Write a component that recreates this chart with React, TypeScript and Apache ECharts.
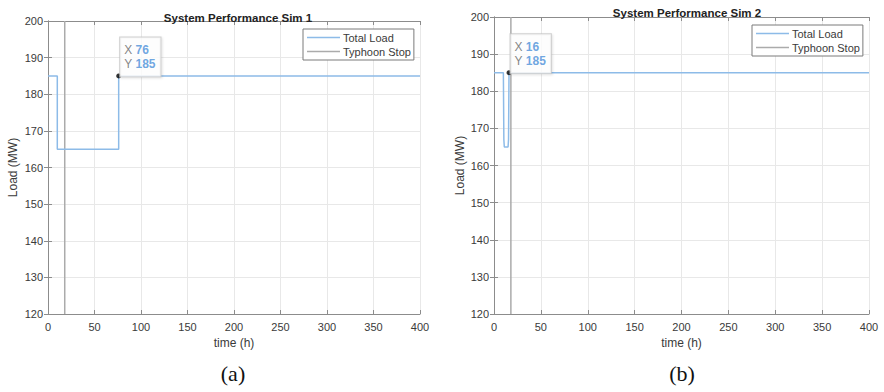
import React, { useEffect, useRef } from "react";
import * as echarts from "echarts";

const sim1Time = [0, 10, 10, 76, 76, 400];
const sim1Load = [185, 185, 165, 165, 185, 185];
const sim2Time = [0, 10, 10.5, 11, 15, 15.5, 16, 400];
const sim2Load = [185, 185, 167, 165, 165, 167, 185, 185];
const typhoonStop = [18, 18];
const typhoonRange = [120, 200];
const tip1 = [76, 185];
const tip2 = [16, 185];
const titles = ["System Performance Sim 1", "System Performance Sim 2"];
const panelLabels = ["(a)", "(b)"];
const xTicks = { min: 0, max: 400, interval: 50 };
const yTicks = { min: 120, max: 200, interval: 10 };

const BLUE = "#8dbbe8";
const GRAY = "#ababab";
const AXIS = "#8c8c8c";
const TXT = "#3a3a3a";
const FONT = "Liberation Sans, Arial, sans-serif";

export default function App() {
  const ref = useRef<HTMLDivElement>(null);
  useEffect(() => {
    document.body.style.margin = "0";
    const chart = echarts.init(ref.current!, null, { renderer: "svg" });
    const grids = [
      { left: 48, top: 21, width: 372, height: 293 },
      { left: 494, top: 17, width: 375, height: 297 },
    ];
    const xAxes: any[] = [];
    const yAxes: any[] = [];
    grids.forEach((g, i) => {
      xAxes.push({
        type: "value",
        gridIndex: i,
        ...xTicks,
        position: "bottom",
        name: "time (h)",
        nameLocation: "middle",
        nameGap: 22,
        nameTextStyle: { color: TXT, fontSize: 12, fontFamily: FONT },
        axisLine: { show: true, lineStyle: { color: AXIS, width: 1 } },
        axisTick: { show: true, inside: true, length: 4, lineStyle: { color: AXIS } },
        axisLabel: { color: TXT, fontSize: 11, fontFamily: FONT, margin: 7 },
        splitLine: { show: true, lineStyle: { color: "#e8e8e8", width: 1 } },
      });
      xAxes.push({
        type: "value",
        gridIndex: i,
        ...xTicks,
        position: "top",
        axisLine: { show: true, lineStyle: { color: AXIS, width: 1 } },
        axisTick: { show: true, inside: true, length: 4, lineStyle: { color: AXIS } },
        axisLabel: { show: false },
        splitLine: { show: false },
      });
      yAxes.push({
        type: "value",
        gridIndex: i,
        ...yTicks,
        position: "left",
        name: "Load (MW)",
        nameLocation: "middle",
        nameGap: i === 0 ? 29 : 28,
        nameTextStyle: { color: TXT, fontSize: 12, fontFamily: FONT },
        axisLine: { show: true, lineStyle: { color: AXIS, width: 1 } },
        axisTick: { show: true, inside: true, length: 4, lineStyle: { color: AXIS } },
        axisLabel: { color: TXT, fontSize: 11, fontFamily: FONT, margin: 5 },
        splitLine: { show: true, lineStyle: { color: "#e8e8e8", width: 1 } },
      });
      yAxes.push({
        type: "value",
        gridIndex: i,
        ...yTicks,
        position: "right",
        axisLine: { show: true, lineStyle: { color: AXIS, width: 1 } },
        axisTick: { show: true, inside: true, length: 4, lineStyle: { color: AXIS } },
        axisLabel: { show: false },
        splitLine: { show: false },
      });
    });

    const loads = [
      { t: sim1Time, v: sim1Load, tip: tip1 },
      { t: sim2Time, v: sim2Load, tip: tip2 },
    ];
    const series: any[] = [];
    loads.forEach((s, i) => {
      series.push({
        type: "line",
        name: "Total Load",
        xAxisIndex: i * 2,
        yAxisIndex: i * 2,
        data: s.t.map((t, k) => [t, s.v[k]]),
        showSymbol: false,
        lineStyle: { color: BLUE, width: 1.5 },
        itemStyle: { color: BLUE },
        z: 3,
      });
      series.push({
        type: "line",
        name: "Typhoon Stop",
        xAxisIndex: i * 2,
        yAxisIndex: i * 2,
        data: typhoonStop.map((t, k) => [t, typhoonRange[k]]),
        showSymbol: false,
        lineStyle: { color: GRAY, width: 1.5 },
        itemStyle: { color: GRAY },
        z: 2,
      });
      series.push({
        type: "scatter",
        name: "tip" + i,
        xAxisIndex: i * 2,
        yAxisIndex: i * 2,
        data: [s.tip],
        symbolSize: 5,
        itemStyle: { color: "#000" },
        z: 5,
        label: {
          show: true,
          position: [4, 3],
          align: "left",
          verticalAlign: "bottom",
          formatter: () => `{k|X} {v|${s.tip[0]}}\n{k|Y} {v|${s.tip[1]}}`,
          backgroundColor: "#fff",
          borderColor: "#c4c4c4",
          borderWidth: 1,
          padding: [6, 5, 5, 4],
          shadowColor: "rgba(0,0,0,0.12)",
          shadowBlur: 2,
          shadowOffsetX: 1,
          shadowOffsetY: 1,
          rich: {
            k: { color: "#666", fontSize: 12, fontFamily: FONT, lineHeight: 14 },
            v: { color: "#4a8fd9", fontSize: 12, fontWeight: "bold", fontFamily: FONT, lineHeight: 14 },
          },
        },
      });
    });

    const legendBase = {
      orient: "vertical",
      data: ["Total Load", "Typhoon Stop"],
      selectedMode: false,
      backgroundColor: "#fff",
      borderColor: "#7a7a7a",
      borderWidth: 1,
      padding: [3, 3, 3, 4],
      itemGap: 3,
      itemWidth: 33,
      itemHeight: 1.5,
      icon: "rect",
      textStyle: { color: TXT, fontSize: 11, fontFamily: FONT, padding: [0, 0, 0, -2] },
    };

    chart.setOption({
      animation: false,
      backgroundColor: "#fff",
      title: [
        {
          text: titles[0],
          left: 233,
          top: 7,
          textAlign: "center",
          textStyle: { fontSize: 11.5, fontWeight: "bold", color: "#222", fontFamily: FONT },
        },
        {
          text: titles[1],
          left: 682,
          top: 2,
          textAlign: "center",
          textStyle: { fontSize: 11.5, fontWeight: "bold", color: "#222", fontFamily: FONT },
        },
      ],
      legend: [
        { ...legendBase, left: 303, top: 29 },
        { ...legendBase, left: 752, top: 25 },
      ],
      grid: grids.map((g) => ({ ...g, containLabel: false })),
      xAxis: xAxes,
      yAxis: yAxes,
      series,
      graphic: [
        {
          type: "text",
          x: 233,
          y: 373,
          style: {
            text: panelLabels[0],
            fill: "#111",
            font: "22px 'Liberation Serif', 'Times New Roman', serif",
            align: "center",
            verticalAlign: "middle",
          },
        },
        {
          type: "text",
          x: 682,
          y: 373,
          style: {
            text: panelLabels[1],
            fill: "#111",
            font: "22px 'Liberation Serif', 'Times New Roman', serif",
            align: "center",
            verticalAlign: "middle",
          },
        },
      ],
    });
    return () => chart.dispose();
  }, []);
  return (
    <div
      ref={ref}
      style={{ position: "fixed", left: 0, top: 0, width: 884, height: 392 }}
    />
  );
}
